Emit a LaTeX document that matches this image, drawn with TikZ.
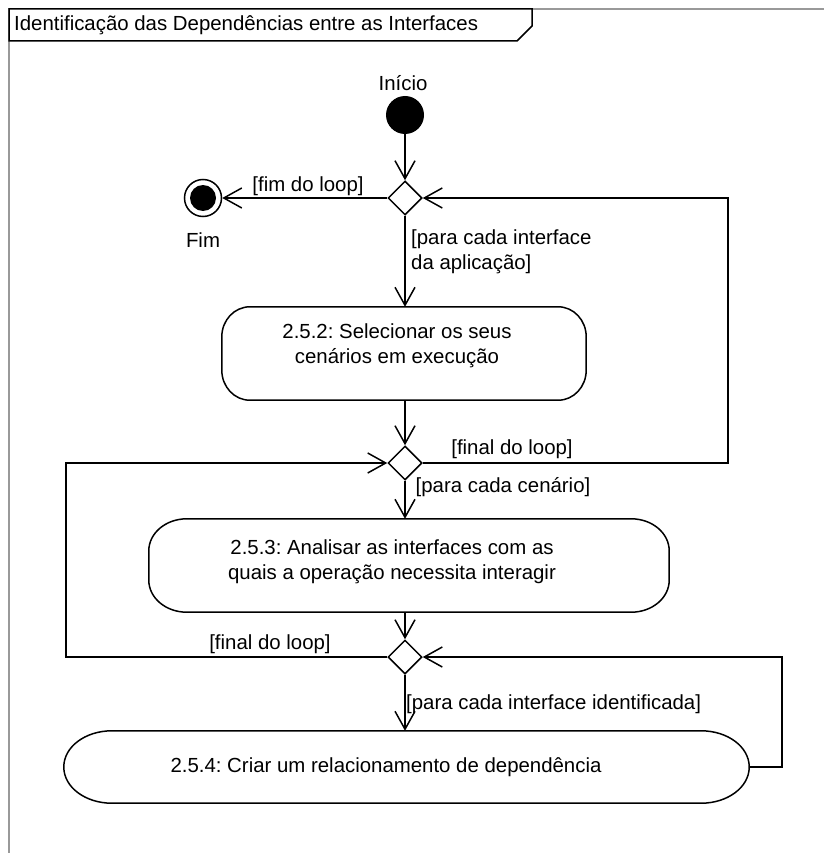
\documentclass[tikz,border=0pt]{standalone}
\usepackage{fontspec}
\setmainfont{Liberation Sans}
\frenchspacing
\usetikzlibrary{arrows.meta,shapes.geometric,calc}
\newcommand\stadiumbox[3]{%
  \draw[ln] ([xshift=#2]#1.north west) -- ([xshift=-#2]#1.north east)
    arc[start angle=90,end angle=0,x radius=#2,y radius=#3]
    -- ([yshift=#3]#1.south east)
    arc[start angle=0,end angle=-90,x radius=#2,y radius=#3]
    -- ([xshift=#2]#1.south west)
    arc[start angle=270,end angle=180,x radius=#2,y radius=#3]
    -- ([yshift=-#3]#1.north west)
    arc[start angle=180,end angle=90,x radius=#2,y radius=#3] -- cycle;}
\begin{document}
\begin{tikzpicture}[x=1pt,y=1pt,
  every node/.style={font=\fontsize{20.4}{24.5}\selectfont,inner sep=0pt},
  ln/.style={line width=1.5pt},
  flow/.style={ln,-{Straight Barb[length=18pt,width=20pt]}},
  decision/.style={diamond,draw,ln,fill=white,minimum width=34pt,minimum height=34pt,inner sep=0pt},
  actbox/.style={rectangle,inner sep=0pt},
  frameline/.style={draw=black!40,line width=1.5pt}
]
\useasboundingbox (0,0) rectangle (824,-853);
% frame
\draw[frameline] (9,-853) -- (9,-9) -- (824,-9);
\draw[ln,fill=white] (9,-9) -- (532,-9) -- (532,-26) -- (517,-41) -- (9,-41) -- cycle;
\node[anchor=west] (title) at (14,-25.5) {Identificação das Dependências entre as Interfaces};

% nodes
\node[circle,fill=black,minimum size=38pt] (start) at (405,-115) {};
\node (startlbl) at (403,-83) {Início};
\node[decision] (d1) at (405,-198) {};
\node[circle,draw,ln,fill=white,minimum size=37pt] (fim) at (203,-198) {};
\node[circle,fill=black,minimum size=26pt] (fimin) at (fim) {};
\node (fimlbl) at (203,-240) {Fim};

\node[actbox,minimum width=364pt,minimum height=93pt] (a1) at (404,-353.5) {};
\stadiumbox{a1}{28pt}{30pt}
\node[align=center] (a1t) at (397,-346) {2.5.2: Selecionar os seus\\cenários em execução};

\node[decision] (d2) at (405,-463) {};

\node[actbox,minimum width=520pt,minimum height=93pt] (a2) at (409,-565.5) {};
\stadiumbox{a2}{38pt}{32pt}
\node[align=center] (a2t) at (392,-562) {2.5.3: Analisar as interfaces com as\\quais a operação necessita interagir};

\node[decision] (d3) at (405,-657) {};

\node[actbox,minimum width=685pt,minimum height=72pt] (a3) at (406.5,-767) {};
\stadiumbox{a3}{48pt}{36pt}
\node (a3t) at (386,-767) {2.5.4: Criar um relacionamento de dependência};

\coordinate (r1) at (728,0);
\coordinate (l1) at (66,0);
\coordinate (r2) at (782,0);

% connectors
\draw[flow] (start) -- (d1.north);
\draw[flow] (d1.west) -- (fim);
\draw[flow] (d1.south) -- (d1.south |- a1.north);
\draw[flow] (a1.south -| d2) -- (d2.north);
\draw[flow] (d2.east) -- (d2.east -| r1) |- (d1.east);
\draw[flow] (d2.south) -- (d2.south |- a2.north);
\draw[flow] (a2.south -| d3) -- (d3.north);
\draw[flow] (d3.west) -- (d3.west -| l1) |- (d2.west);
\draw[flow] (d3.south) -- (d3.south |- a3.north);
\draw[flow] (a3.east) -- (a3.east -| r2) |- (d3.east);

% guards
\node (g1) at (308,-186) {[fim do loop]};
\node[anchor=west,align=left] (g2) at (411,-252) {[para cada interface\\da aplicação]};
\node (g3) at (512,-449) {[final do loop]};
\node (g4) at (503,-487) {[para cada cenário]};
\node (g5) at (270,-644) {[final do loop]};
\node[anchor=west] (g6) at (406,-704) {[para cada interface identificada]};
\end{tikzpicture}
\end{document}
